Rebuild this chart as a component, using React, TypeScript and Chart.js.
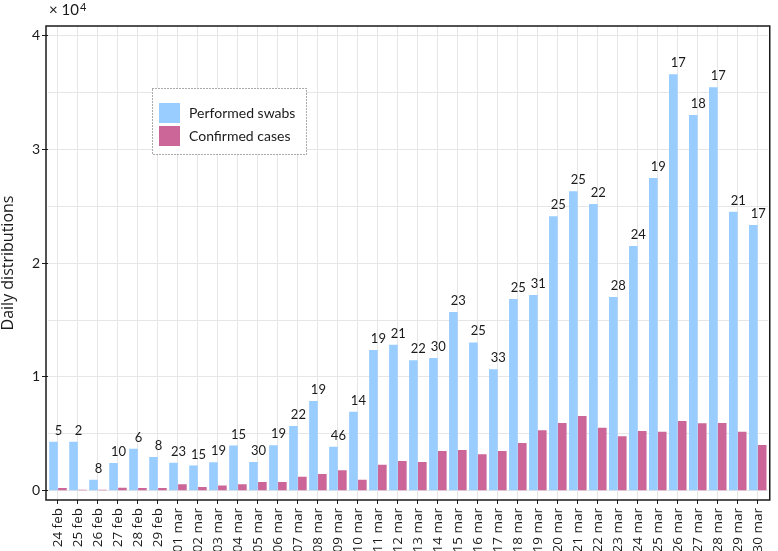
import { useEffect, useRef } from 'react';
import { Chart, registerables } from 'chart.js';

Chart.register(...registerables);

const dates = [
  '24 feb', '25 feb', '26 feb', '27 feb', '28 feb', '29 feb',
  '01 mar', '02 mar', '03 mar', '04 mar', '05 mar', '06 mar', '07 mar', '08 mar', '09 mar', '10 mar',
  '11 mar', '12 mar', '13 mar', '14 mar', '15 mar', '16 mar', '17 mar', '18 mar', '19 mar', '20 mar',
  '21 mar', '22 mar', '23 mar', '24 mar', '25 mar', '26 mar', '27 mar', '28 mar', '29 mar', '30 mar',
];

const performedSwabs = [
  4300, 4300, 960, 2430, 3680, 2960,
  2460, 2210, 2500, 3970, 2520, 4000, 5690, 7880, 3860, 6940,
  12360, 12830, 11460, 11660, 15710, 13040, 10670, 16850, 17200, 24120,
  26340, 25200, 17030, 21510, 27490, 36620, 33040, 35480, 24530, 23360,
];

const confirmedCases = [
  240, 90, 80, 250, 240, 240,
  560, 320, 450, 560, 760, 760, 1230, 1460, 1790, 960,
  2290, 2610, 2520, 3490, 3580, 3200, 3490, 4190, 5310, 5950,
  6560, 5540, 4780, 5250, 5190, 6130, 5920, 5950, 5190, 4020,
];

const barLabels = [
  '5', '2', '8', '10', '6', '8',
  '23', '15', '19', '15', '30', '19', '22', '19', '46', '14',
  '19', '21', '22', '30', '23', '25', '33', '25', '31', '25',
  '25', '22', '28', '24', '19', '17', '18', '17', '21', '17',
];

const yTickValues = [
  0, 5000, 10000, 15000, 20000, 25000, 30000, 35000, 40000,
];

const legendLabels = ['Performed swabs', 'Confirmed cases'];

const BLUE = '#99ccff';
const PINK = '#cc6699';
const GRID = '#e6e6e6';
const INK = '#1a1a1a';

const framePlugin = {
  id: 'frame',
  afterDatasetsDraw(chart: any) {
    const { ctx, chartArea } = chart;
    ctx.save();
    ctx.strokeStyle = INK;
    ctx.lineWidth = 1.5;
    ctx.strokeRect(chartArea.left - 2, chartArea.top, chartArea.right - chartArea.left + 4, chartArea.bottom - chartArea.top);
    ctx.restore();
  },
};

const barLabelPlugin = {
  id: 'barLabels',
  afterDatasetsDraw(chart: any) {
    const { ctx } = chart;
    const meta = chart.getDatasetMeta(0);
    const xScale = chart.scales.x;
    ctx.save();
    ctx.fillStyle = INK;
    ctx.font = '13px Lato';
    ctx.textAlign = 'center';
    ctx.textBaseline = 'alphabetic';
    meta.data.forEach((bar: any, i: number) => {
      const x = xScale.getPixelForValue(i) + 0.5;
      ctx.fillText(barLabels[i], x, bar.y - 7);
    });
    ctx.restore();
  },
};

const overlayPlugin = {
  id: 'overlay',
  afterDraw(chart: any) {
    const { ctx } = chart;
    ctx.save();
    // exponent label
    ctx.fillStyle = INK;
    ctx.textBaseline = 'alphabetic';
    ctx.textAlign = 'left';
    ctx.font = '15px Lato';
    ctx.fillText('\u00d7 10', 49, 15);
    const w = ctx.measureText('\u00d7 10').width;
    ctx.font = '11px Lato';
    ctx.fillText('4', 49 + w + 1, 11);

    // legend
    const bx = 152, by = 88, bw = 154, bh = 66;
    ctx.fillStyle = '#ffffff';
    ctx.fillRect(bx, by, bw, bh);
    ctx.strokeStyle = '#555';
    ctx.lineWidth = 1;
    ctx.setLineDash([1, 2]);
    ctx.strokeRect(bx + 0.5, by + 0.5, bw, bh);
    ctx.setLineDash([]);
    const colors = [BLUE, PINK];
    ctx.font = '14px Lato';
    ctx.textBaseline = 'middle';
    legendLabels.forEach((label, i) => {
      const sy = 103 + i * 23;
      ctx.fillStyle = colors[i];
      ctx.fillRect(159, sy, 21, 20);
      ctx.fillStyle = INK;
      ctx.fillText(label, 189, sy + 10);
    });
    ctx.restore();
  },
};

export default function App() {
  const canvasRef = useRef<HTMLCanvasElement | null>(null);

  useEffect(() => {
    if (!canvasRef.current) return;
    const chart = new Chart(canvasRef.current, {
      type: 'bar',
      data: {
        labels: dates,
        datasets: [
          {
            label: legendLabels[0],
            data: performedSwabs,
            backgroundColor: BLUE,
            borderWidth: 0,
            categoryPercentage: 0.89,
            barPercentage: 0.97,
          },
          {
            label: legendLabels[1],
            data: confirmedCases,
            backgroundColor: PINK,
            borderWidth: 0,
            categoryPercentage: 0.89,
            barPercentage: 0.97,
          },
        ],
      },
      options: {
        animation: false,
        responsive: true,
        maintainAspectRatio: false,
        layout: { padding: { top: 26, right: 4, left: 0, bottom: 0 } },
        plugins: {
          legend: { display: false },
          tooltip: { enabled: false },
        },
        scales: {
          x: {
            type: 'category',
            border: { display: false },
            grid: {
              offset: false,
              color: GRID,
              lineWidth: 1,
              tickLength: 4,
              tickColor: INK,
            },
            ticks: {
              minRotation: 90,
              maxRotation: 90,
              autoSkip: false,
              padding: 4,
              color: INK,
              font: { family: 'Open Sans', size: 13.5 },
            },
            afterFit: (scale: any) => {
              scale.height = 51;
            },
          },
          y: {
            min: -820,
            max: 40860,
            border: { display: false },
            grid: {
              color: GRID,
              lineWidth: 1,
              tickLength: 6,
              tickColor: (ctx: any) =>
                ctx.tick && ctx.tick.value % 10000 === 0 ? INK : 'rgba(0,0,0,0)',
            },
            ticks: {
              padding: 2,
              color: INK,
              font: { family: 'Lato', size: 14 },
              callback: (value: any) =>
                Number(value) % 10000 === 0 ? String(Number(value) / 10000) : '',
            },
            afterBuildTicks: (scale: any) => {
              scale.ticks = yTickValues.map((v) => ({ value: v }));
            },
            afterFit: (scale: any) => {
              scale.width = 48;
            },
            title: {
              display: true,
              text: 'Daily distributions',
              color: INK,
              padding: 0,
              font: { family: 'Open Sans', size: 16, lineHeight: 1 },
            },
          },
        },
      },
      plugins: [framePlugin, barLabelPlugin, overlayPlugin],
    });
    return () => chart.destroy();
  }, []);

  return (
    <div style={{ position: 'absolute', left: 0, top: 0, width: 778, height: 551, background: '#fff' }}>
      <canvas ref={canvasRef} />
    </div>
  );
}
